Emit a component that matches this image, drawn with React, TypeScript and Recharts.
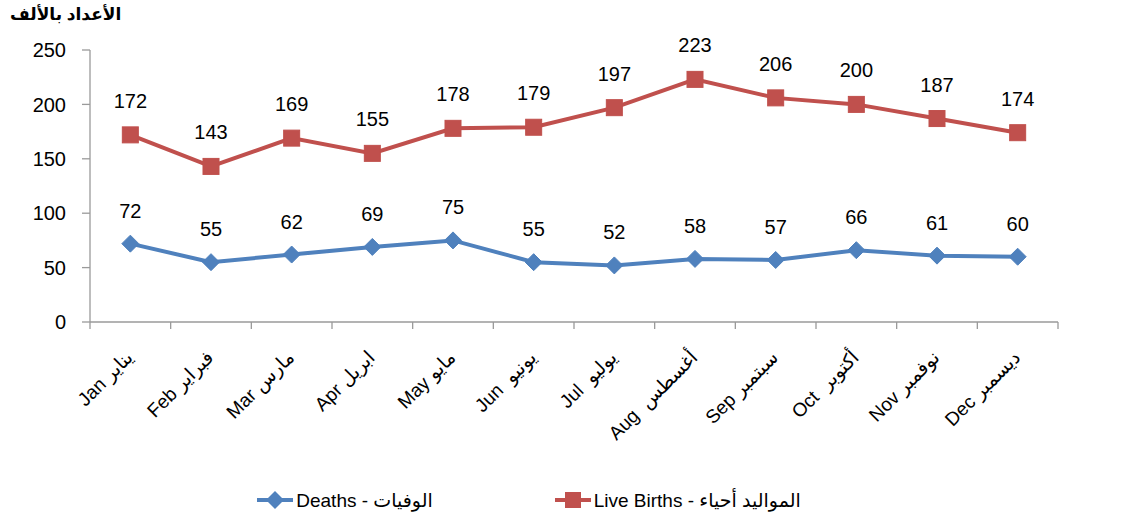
import React from 'react';
import { LineChart, Line, XAxis, YAxis, LabelList, Legend } from 'recharts';

const monthLabels = [
  'Jan يناير',
  'Feb فبراير',
  'Mar مارس',
  'Apr ابريل',
  'May مايو',
  'Jun\u00a0\u00a0يونيو',
  'Jul\u00a0\u00a0يوليو',
  'Aug\u00a0\u00a0أغسطس',
  'Sep سبتمبر',
  'Oct\u00a0\u00a0أكتوبر',
  'Nov نوفمبر',
  'Dec ديسمبر',
];
const liveBirths = [172, 143, 169, 155, 178, 179, 197, 223, 206, 200, 187, 174];
const deaths = [72, 55, 62, 69, 75, 55, 52, 58, 57, 66, 61, 60];
const yTicks = [0, 50, 100, 150, 200, 250];

const birthsName = 'Live Births - المواليد أحياء';
const deathsName = 'Deaths - الوفيات';

const chartRows = monthLabels.map((month, i) => ({
  month,
  births: liveBirths[i],
  deaths: deaths[i],
}));

const BLUE = '#4F81BD';
const RED = '#C0504D';
const AXIS = '#9a9a9a';
const FONT = '"Liberation Sans", "DejaVu Sans", sans-serif';
const PLOT_LEFT = 90;
const PLOT_RIGHT = 1058;
const BAND = (PLOT_RIGHT - PLOT_LEFT) / 12;

function MonthTick(props: any) {
  const { x, y, payload, index } = props;
  return (
    <g>
      <line x1={x - BAND / 2} y1={y} x2={x - BAND / 2} y2={y + 7} stroke={AXIS} strokeWidth={1.3} />
      {index === monthLabels.length - 1 && (
        <line x1={x + BAND / 2} y1={y} x2={x + BAND / 2} y2={y + 7} stroke={AXIS} strokeWidth={1.3} />
      )}
      <text
        transform={`translate(${x - 1},${y + 32}) rotate(-45)`}
        textAnchor="end"
        fontFamily={FONT}
        fontSize={19}
        fill="#000"
        dy="0.35em"
      >
        {payload.value}
      </text>
    </g>
  );
}

function Diamond(props: any) {
  const { cx, cy } = props;
  if (cx == null || cy == null) return null;
  const r = 8.5;
  return (
    <polygon
      points={`${cx},${cy - r} ${cx + r},${cy} ${cx},${cy + r} ${cx - r},${cy}`}
      fill={BLUE}
      stroke={BLUE}
      strokeWidth={1}
    />
  );
}

function Square(props: any) {
  const { cx, cy } = props;
  if (cx == null || cy == null) return null;
  return <rect x={cx - 8} y={cy - 8} width={16} height={16} fill={RED} stroke={RED} strokeWidth={1} />;
}

function LegendContent() {
  const item = (label: string, color: string, square: boolean) => (
    <div style={{ display: 'flex', alignItems: 'center', fontFamily: FONT, fontSize: 19 }}>
      <svg width={36} height={20}>
        <line x1={0} y1={10} x2={36} y2={10} stroke={color} strokeWidth={4} />
        {square ? (
          <rect x={10} y={2} width={16} height={16} fill={color} />
        ) : (
          <polygon points="18,1 27,10 18,19 9,10" fill={color} />
        )}
      </svg>
      <span style={{ marginLeft: 3 }}>{label}</span>
    </div>
  );
  return (
    <div style={{ display: 'flex', justifyContent: 'center', gap: 122, height: 36, paddingTop: 8, paddingLeft: 0 }}>
      {item(deathsName, BLUE, false)}
      {item(birthsName, RED, true)}
    </div>
  );
}

export default function App(): React.JSX.Element {
  return (
    <div style={{ position: 'absolute', left: 0, top: 0, width: 1134, height: 518, background: '#fff' }}>
      <div
        style={{
          position: 'absolute',
          left: 10,
          top: 4,
          fontFamily: FONT,
          fontWeight: 700,
          fontSize: 17,
          direction: 'rtl',
          zIndex: 2,
        }}
      >
        الأعداد بالألف
      </div>
      <LineChart
        width={1134}
        height={518}
        data={chartRows}
        margin={{ top: 50, right: 1134 - PLOT_RIGHT, left: 0, bottom: 0 }}
      >
        <XAxis
          dataKey="month"
          interval={0}
          tickSize={0}
          tickMargin={0}
          height={152}
          padding={{ left: BAND / 2, right: BAND / 2 }}
          stroke={AXIS}
          strokeWidth={1.3}
          tick={<MonthTick />}
        />
        <YAxis
          domain={[0, 250]}
          ticks={yTicks}
          width={PLOT_LEFT}
          stroke={AXIS}
          strokeWidth={1.3}
          tickSize={8}
          tickMargin={16}
          tick={{ fill: '#000', fontFamily: FONT, fontSize: 20 }}
        />
        <Legend verticalAlign="bottom" content={<LegendContent />} />
        <Line
          dataKey="births"
          name={birthsName}
          stroke={RED}
          strokeWidth={4}
          dot={<Square />}
          activeDot={false}
          isAnimationActive={false}
        >
          <LabelList dataKey="births" position="top" offset={27} fill="#000" fontFamily={FONT} fontSize={20} />
        </Line>
        <Line
          dataKey="deaths"
          name={deathsName}
          stroke={BLUE}
          strokeWidth={4}
          dot={<Diamond />}
          activeDot={false}
          isAnimationActive={false}
        >
          <LabelList dataKey="deaths" position="top" offset={26} fill="#000" fontFamily={FONT} fontSize={20} />
        </Line>
      </LineChart>
    </div>
  );
}
